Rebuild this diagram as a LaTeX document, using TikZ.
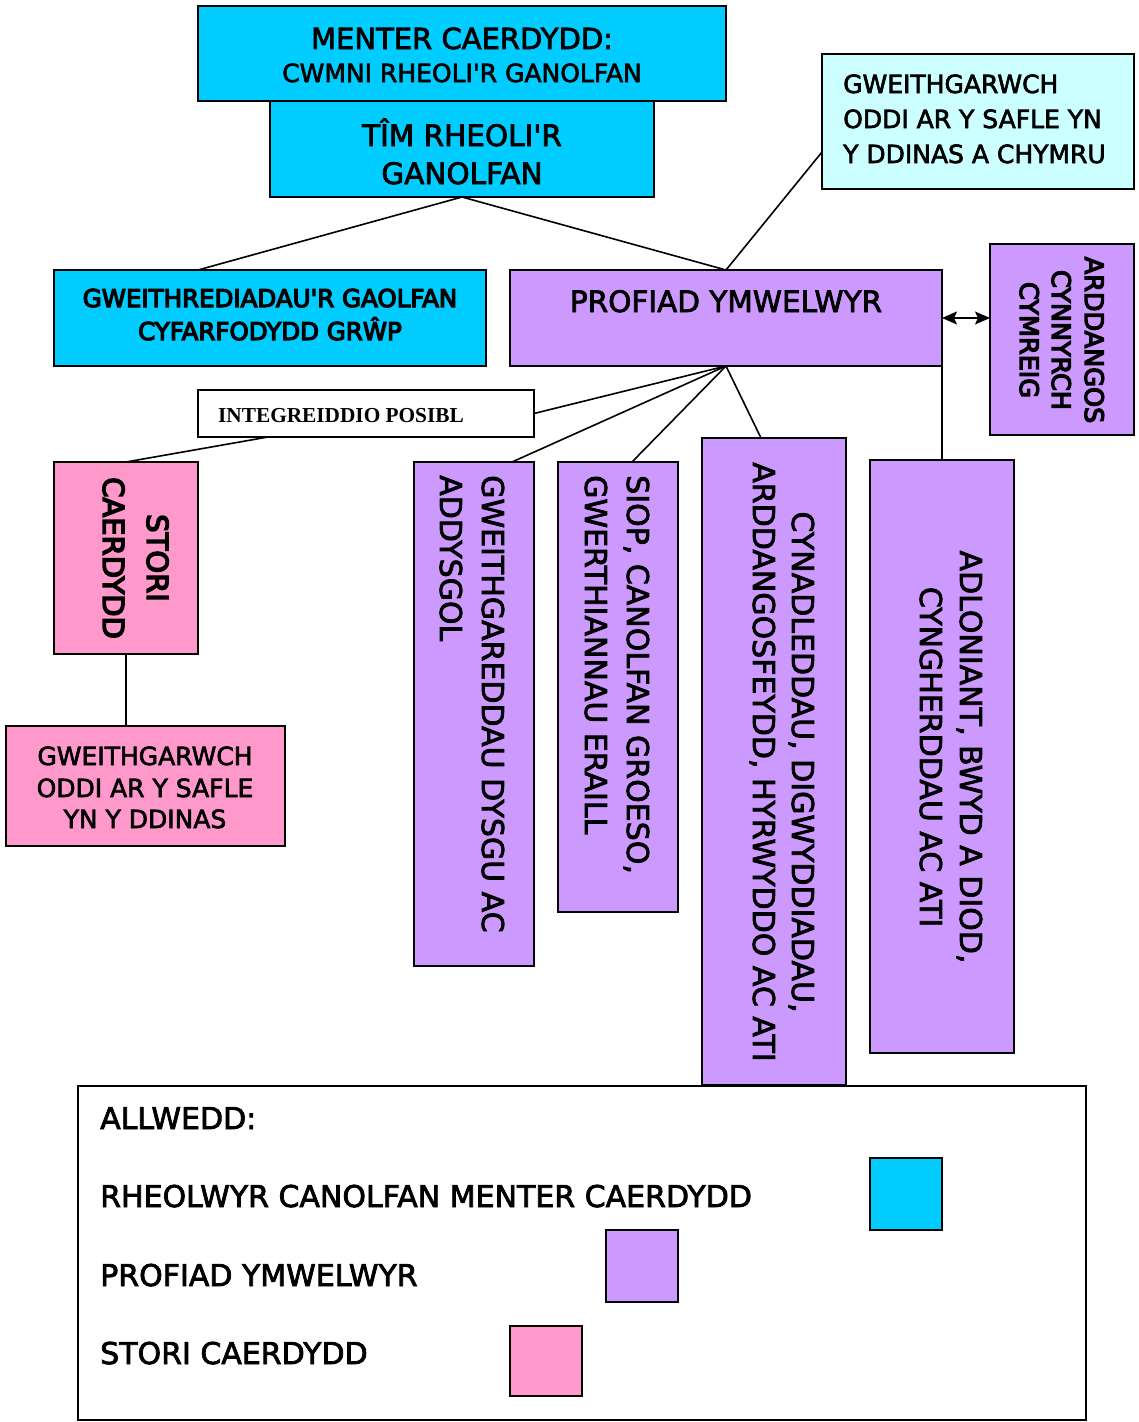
\documentclass[tikz,border=0pt]{standalone}
\usepackage{fontspec}
\setmainfont{DejaVu Sans}[FakeBold=2.5]
\newfontfamily\heavyf{DejaVu Sans}[FakeBold=5]
\newfontfamily\tnr{Liberation Serif}
\usetikzlibrary{calc,arrows.meta}
\definecolor{cyanbox}{HTML}{00CCFF}
\definecolor{lightcyanbox}{HTML}{CCFFFF}
\definecolor{purplebox}{HTML}{CC99FF}
\definecolor{pinkbox}{HTML}{FF99CC}
\newcommand{\apos}{\textquotesingle}
\begin{document}
\begin{tikzpicture}[x=1pt,y=-1pt,
  box/.style={draw=black, line width=2pt, anchor=north west, inner sep=0pt, outer sep=0pt},
  conn/.style={line width=1.6pt},
  arr/.style={line width=1.6pt, {Stealth[length=15pt,width=13pt,inset=3pt]}-{Stealth[length=15pt,width=13pt,inset=3pt]}},
  txt/.style={inner sep=0pt, anchor=base},
  txtl/.style={inner sep=0pt, anchor=base west},
  fs/.style={font=\fontsize{#1}{#1}\selectfont},
  hfs/.style={font=\heavyf\fontsize{#1}{#1}\selectfont},
]
\fill[white] (0,0) rectangle (1139,1422);
\useasboundingbox (0,0) rectangle (1139,1422);

% boxes
\node[box, fill=cyanbox, minimum width=528, minimum height=95] (A) at (198,6) {};
\node[box, fill=cyanbox, minimum width=384, minimum height=96] (B) at (270,101) {};
\node[box, fill=cyanbox, minimum width=432, minimum height=96] (C) at (54,270) {};
\node[box, fill=purplebox, minimum width=432, minimum height=96] (D) at (510,270) {};
\node[box, fill=lightcyanbox, minimum width=312, minimum height=135] (E) at (822,54) {};
\node[box, fill=purplebox, minimum width=144, minimum height=191] (F) at (990,244) {};
\node[box, fill=white, minimum width=336, minimum height=47] (INT) at (198,390) {};
\node[box, fill=pinkbox, minimum width=144, minimum height=192] (S) at (54,462) {};
\node[box, fill=pinkbox, minimum width=279, minimum height=120] (P) at (6,726) {};
\node[box, fill=purplebox, minimum width=120, minimum height=504] (G) at (414,462) {};
\node[box, fill=purplebox, minimum width=120, minimum height=450] (H) at (558,462) {};
\node[box, fill=purplebox, minimum width=144, minimum height=647] (I) at (702,438) {};
\node[box, fill=purplebox, minimum width=144, minimum height=593] (J) at (870,460) {};

% connectors
\draw[conn] (B.south) -- ($(C.north west)+(144,0)$);
\draw[conn] (B.south) -- (D.north);
\draw[conn] (D.north) -- ($(E.south west)+(0,-37)$);
\draw[conn] (D.south) -- (INT.east);
\draw[conn] (D.south) -- ($(G.north west)+(98,0)$);
\draw[conn] (D.south) -- ($(H.north west)+(74,0)$);
\draw[conn] (D.south) -- ($(I.north west)+(59,0)$);
\draw[conn] (D.south east) -- (J.north);
\draw[conn] ($(INT.south west)+(70,0)$) -- (S.north);
\draw[conn] (S.south) -- (S.south |- P.north);
\draw[arr] (D.east) -- (D.east -| F.west);

% texts
\node[txt, fs=29] (a1) at (462,49) {MENTER CAERDYDD:};
\node[txt, fs=25] (a2) at (462,82) {CWMNI RHEOLI\apos R GANOLFAN};
\node[txt, fs=29.5] (b1) at (462,146) {TÎM RHEOLI\apos R};
\node[txt, fs=29.5] (b2) at (462,184) {GANOLFAN};
\node[txt, hfs=24.5] (c1) at (270,307) {GWEITHREDIADAU\apos R GAOLFAN};
\node[txt, hfs=24.5] (c2) at (270,340) {CYFARFODYDD GRŴP};
\node[txt, fs=29.5] (d1) at (726,312) {PROFIAD YMWELWYR};
\node[txtl, fs=25] (e1) at (843,93) {GWEITHGARWCH};
\node[txtl, fs=25] (e2) at (843,128) {ODDI AR Y SAFLE YN};
\node[txtl, fs=25] (e3) at (843,163) {Y DDINAS A CHYMRU};
\node[txtl, font=\tnr\bfseries\fontsize{21.3}{21.3}\selectfont] (int1) at (218,422) {INTEGREIDDIO POSIBL};
\node[txt, fs=25] (p1) at (145,765) {GWEITHGARWCH};
\node[txt, fs=25] (p2) at (145,797) {ODDI AR Y SAFLE};
\node[txt, fs=25] (p3) at (145,828) {YN Y DDINAS};

\node[txt, hfs=25.5, rotate=-90] (f1) at (1085,340) {ARDDANGOS};
\node[txt, hfs=25.5, rotate=-90] (f2) at (1052,340) {CYNNYRCH};
\node[txt, hfs=25.5, rotate=-90] (f3) at (1020,340) {CYMREIG};
\node[txt, hfs=29, rotate=-90] (s1) at (147,558) {STORI};
\node[txt, hfs=29, rotate=-90] (s2) at (103,558) {CAERDYDD};
\node[txtl, fs=30, rotate=-90] (g1) at (482,475) {GWEITHGAREDDAU DYSGU AC};
\node[txtl, fs=30, rotate=-90] (g2) at (440,475) {ADDYSGOL};
\node[txtl, fs=30, rotate=-90] (h1) at (627,475) {SIOP, CANOLFAN GROESO,};
\node[txtl, fs=30, rotate=-90] (h2) at (585,475) {GWERTHIANNAU ERAILL};
\node[txt, fs=30, rotate=-90] (i1) at (792,762) {CYNADLEDDAU, DIGWYDDIADAU,};
\node[txt, fs=30, rotate=-90] (i2) at (753,762) {ARDDANGOSFEYDD, HYRWYDDO AC ATI};
\node[txt, fs=30, rotate=-90] (j1) at (960,757) {ADLONIANT, BWYD A DIOD,};
\node[txt, fs=30, rotate=-90] (j2) at (920,757) {CYNGHERDDAU AC ATI};

% legend
\node[box, fill=white, minimum width=1008, minimum height=334] (L) at (78,1086) {};
\node[txtl, fs=30] (l0) at (100,1129) {ALLWEDD:};
\node[txtl, fs=30] (l1) at (100,1207) {RHEOLWYR CANOLFAN MENTER CAERDYDD};
\node[txtl, fs=30] (l2) at (100,1286) {PROFIAD YMWELWYR};
\node[txtl, fs=30] (l3) at (100,1364) {STORI CAERDYDD};
\node[box, fill=cyanbox, minimum width=72, minimum height=72] (k1) at (870,1158) {};
\node[box, fill=purplebox, minimum width=72, minimum height=72] (k2) at (606,1230) {};
\node[box, fill=pinkbox, minimum width=72, minimum height=70] (k3) at (510,1326) {};
\end{tikzpicture}
\end{document}
